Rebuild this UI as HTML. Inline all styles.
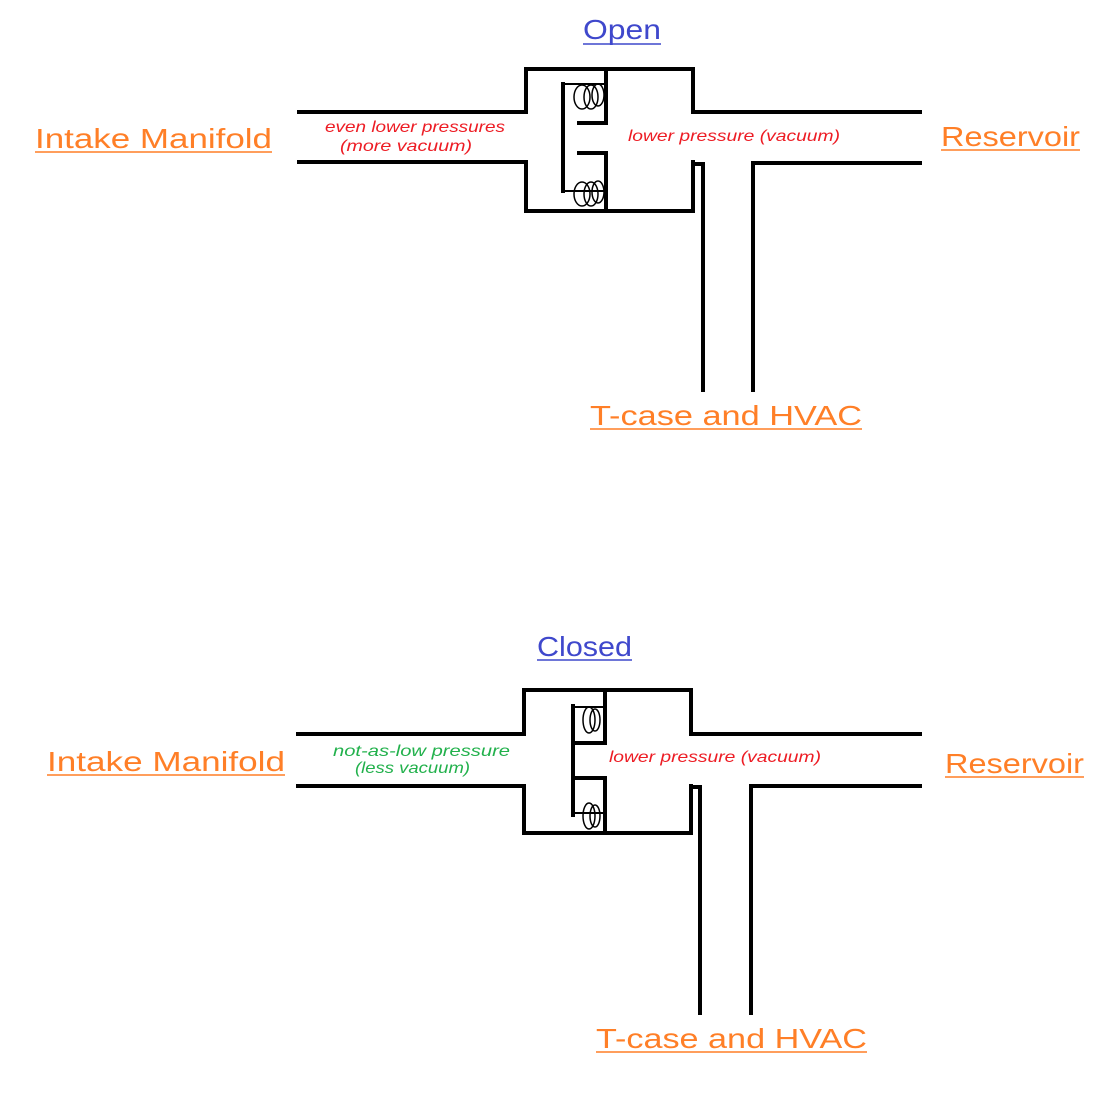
<!DOCTYPE html>
<html><head><style>html,body{margin:0;padding:0;background:#fff}</style></head><body>
<svg width="1119" height="1105" viewBox="0 0 1119 1105" xmlns="http://www.w3.org/2000/svg" font-family="'Liberation Sans', sans-serif">
<rect width="1119" height="1105" fill="#fff"/>
<g stroke="#000" stroke-width="4" fill="none" stroke-linecap="square">
 <!-- TOP -->
 <path d="M299 112 H526 V69 H693 V112 H920"/>
 <path d="M299 162 H526 V211 H693 V162"/>
 <path d="M693 164 H703 V390"/>
 <path d="M920 163 H753 V390"/>
 <path d="M606 69 V123 H579"/>
 <path d="M606 211 V153 H579"/>
 <path d="M563 84 V191"/>
 <path d="M563 84 H606 M563 191 H606" stroke-width="2"/>
 <g stroke-width="1.5">
  <ellipse cx="582" cy="97" rx="8" ry="12"/><ellipse cx="591" cy="97" rx="7" ry="12"/><ellipse cx="598" cy="95" rx="6" ry="11"/>
  <ellipse cx="582" cy="194" rx="8" ry="12"/><ellipse cx="591" cy="194" rx="7" ry="12"/><ellipse cx="598" cy="192" rx="6" ry="11"/>
 </g>
 <!-- BOTTOM -->
 <path d="M298 734 H524 V690 H691 V734 H920"/>
 <path d="M298 786 H524 V833 H691 V786"/>
 <path d="M691 787 H700 V1013"/>
 <path d="M920 786 H751 V1013"/>
 <path d="M605 690 V743 H573"/>
 <path d="M605 833 V778 H573"/>
 <path d="M573 706 V815"/>
 <path d="M573 707 H605 M573 813 H605" stroke-width="2"/>
 <g stroke-width="1.5">
  <ellipse cx="589" cy="720" rx="6" ry="13"/><ellipse cx="595" cy="720" rx="5" ry="11"/>
  <ellipse cx="589" cy="816" rx="6" ry="13"/><ellipse cx="595" cy="816" rx="5" ry="11"/>
 </g>
</g>
<g font-size="28" fill="#ff7f27">
 <text x="35" y="148" textLength="237" lengthAdjust="spacingAndGlyphs">Intake Manifold</text>
 <text x="941" y="146" textLength="139" lengthAdjust="spacingAndGlyphs">Reservoir</text>
 <text x="590" y="425" textLength="272" lengthAdjust="spacingAndGlyphs">T-case and HVAC</text>
 <text x="47" y="771" textLength="238" lengthAdjust="spacingAndGlyphs">Intake Manifold</text>
 <text x="945" y="773" textLength="139" lengthAdjust="spacingAndGlyphs">Reservoir</text>
 <text x="596" y="1048" textLength="271" lengthAdjust="spacingAndGlyphs">T-case and HVAC</text>
</g>
<g stroke="#ff7f27" stroke-width="1.5">
 <path d="M35 152 H272 M941 150 H1080 M590 429 H862 M47 775 H285 M945 777 H1084 M596 1052 H867"/>
</g>
<g font-size="28" fill="#3f48cc">
 <text x="583" y="39" textLength="78" lengthAdjust="spacingAndGlyphs">Open</text>
 <text x="537" y="656" textLength="95" lengthAdjust="spacingAndGlyphs">Closed</text>
</g>
<path d="M583 44 H661 M537 660 H632" stroke="#3f48cc" stroke-width="1.5"/>
<g font-size="16" font-style="italic" fill="#ed1c24">
 <text x="325" y="132" textLength="180" lengthAdjust="spacingAndGlyphs">even lower pressures</text>
 <text x="340" y="151" textLength="132" lengthAdjust="spacingAndGlyphs">(more vacuum)</text>
 <text x="628" y="141" textLength="212" lengthAdjust="spacingAndGlyphs">lower pressure (vacuum)</text>
 <text x="609" y="762" textLength="212" lengthAdjust="spacingAndGlyphs">lower pressure (vacuum)</text>
</g>
<g font-size="16" font-style="italic" fill="#22b14c">
 <text x="333" y="756" textLength="177" lengthAdjust="spacingAndGlyphs">not-as-low pressure</text>
 <text x="355" y="773" textLength="115" lengthAdjust="spacingAndGlyphs">(less vacuum)</text>
</g>
</svg>
</body></html>
